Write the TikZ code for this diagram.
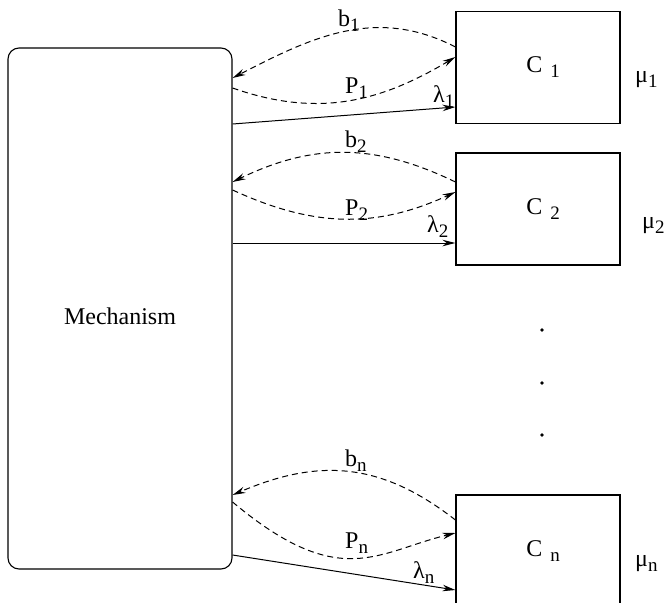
\documentclass[tikz,border=0pt]{standalone}
\usepackage{fontspec}
\setmainfont{Liberation Serif}
\usetikzlibrary{arrows.meta}
\newcommand{\idx}[1]{\raisebox{-5pt}{\fontsize{19}{19}\selectfont #1}}

\begin{document}
\begin{tikzpicture}[x=1pt,y=-1pt]

	% Estilos
	\tikzset{
		box/.style={
			draw,
			line width=1.1pt,
			inner sep=0pt,
			font=\fontsize{24}{27}\selectfont
		},
		channel/.style={box, minimum width=164pt, minimum height=112pt},
		tag/.style={inner sep=0pt, anchor=base west, font=\fontsize{24}{27}\selectfont},
		dot/.style={circle, fill, inner sep=0pt, minimum size=3.8pt},
		rate/.style={line width=1pt, -{Stealth[length=13pt,width=6.5pt]}},
		offer/.style={rate, dash pattern=on 6pt off 4pt}
	}

	\useasboundingbox (0,0) rectangle (668,602);

	% Cajas
	\node[box, rounded corners=11pt, minimum width=224pt, minimum height=521pt] (mech) at (120,308.5) {\raisebox{-16pt}[0pt][0pt]{Mechanism}};
	\node[channel] (C1) at (538,67.5) {\hspace{10pt}C\hspace{8pt}\idx{1}};
	\node[channel] (C2) at (538,209) {\hspace{10pt}C\hspace{8pt}\idx{2}};
	\node[channel] (Cn) at (538,551) {\hspace{10pt}C\hspace{8pt}\idx{n}};

	% Flechas
	\draw[offer] (C1.west |- 0,47) .. controls (376,6) and (312,37) .. (mech.east |- 0,78);
	\draw[offer] (mech.east |- 0,88) .. controls (318,118) and (380,102) .. (C1.west |- 0,57);
	\draw[rate] (mech.east |- 0,124) -- (C1.west |- 0,107);

	\draw[offer] (C2.west |- 0,182) .. controls (375,143) and (313,143) .. (mech.east |- 0,182);
	\draw[offer] (mech.east |- 0,190) .. controls (313,227) and (375,229) .. (C2.west |- 0,192);
	\draw[rate] (mech.east |- 0,243) -- (C2.west |- 0,243);

	\draw[offer] (Cn.west |- 0,520) .. controls (381,462) and (319,458) .. (mech.east |- 0,495);
	\draw[offer] (mech.east |- 0,502) .. controls (340,592) and (377,552) .. (Cn.west |- 0,533);
	\draw[rate] (mech.east |- 0,555) -- (Cn.west |- 0,590);

	% Puntos
	\node[dot] (d1) at (542,330) {};
	\node[dot] (d2) at (542,383) {};
	\node[dot] (d3) at (542,435) {};

	% Etiquetas
	\node[tag] (b1) at (338,27) {b\idx{1}};
	\node[tag] (P1) at (345,93) {P\idx{1}};
	\node[tag] (l1) at (433,102) {λ\idx{1}};
	\node[tag] (m1) at (635,82) {μ\idx{1}};

	\node[tag] (b2) at (345,147) {b\idx{2}};
	\node[tag] (P2) at (345,215) {P\idx{2}};
	\node[tag] (l2) at (427,232) {λ\idx{2}};
	\node[tag] (m2) at (642,228) {μ\idx{2}};

	\node[tag] (bn) at (345,466) {b\idx{n}};
	\node[tag] (Pn) at (345,548) {P\idx{n}};
	\node[tag] (ln) at (413,578) {λ\idx{n}};
	\node[tag] (mn) at (635,566) {μ\idx{n}};

\end{tikzpicture}
\end{document}
